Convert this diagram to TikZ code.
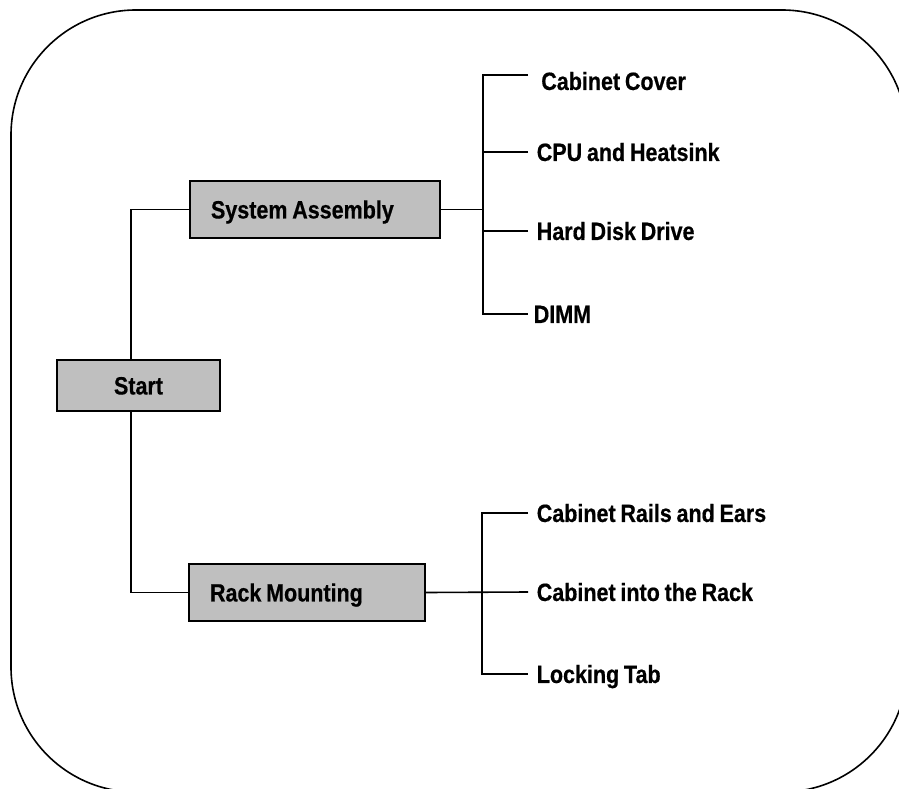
\documentclass[tikz,border=0pt]{standalone}
\usepackage{fontspec}
\newfontfamily\labelfont[FakeStretch=0.86, FakeBold=0.5, WordSpace=0.8]{Liberation Sans Bold}
\usepackage{tikz}
\usetikzlibrary{positioning}

\tikzset{
  lbl/.style={font=\labelfont\fontsize{25}{29}\selectfont, text height=17.9pt, text depth=0pt},
  box/.style={lbl, draw, fill=gray!50, minimum height=57pt, inner xsep=21pt, align=left,
    execute at begin node={\spaceskip=0pt\xspaceskip=0pt\relax}},
  leaf/.style={lbl, anchor=west, inner xsep=8pt, inner ysep=2pt}
}

\begin{document}
\begin{tikzpicture}[x=1pt, y=-1pt, line width=1.6pt]
\useasboundingbox (0,0) rectangle (899,789);
\draw[rounded corners=125pt] (11,10) rectangle (907,792);

% main boxes
\node[box, text width=121pt, align=center, minimum height=51pt] (start) at (138.5,385.5) {Start};
\node[box, text width=208pt] (sys) at (315,209.5) {System Assembly};
\node[box, text width=194pt] (rack) at (307,592.5) {Rack Mounting};

\coordinate (trunk) at (131,0);
\draw (start.north -| trunk) |- (sys.west);
\draw (start.south -| trunk) |- (rack.west);

% system assembly steps
\node[leaf, inner xsep=12.5pt] (cover) at (528,81) {Cabinet Cover};
\node[leaf] (cpu) at (528,152) {CPU and Heatsink};
\node[leaf] (hdd) at (528,231) {Hard Disk Drive};
\node[leaf, inner xsep=5pt] (dimm) at (528,314) {DIMM};

\coordinate (sbus) at (483,0);
\draw (sys.east) -- (sys.east -| sbus);
\draw ([yshift=6pt]cover.west) -| (sbus |- dimm.west) -- (dimm.west);
\draw (cpu.west) -- (cpu.west -| sbus);
\draw (hdd.west) -- (hdd.west -| sbus);

% rack mounting steps
\node[leaf] (rails) at (528,513) {Cabinet Rails and Ears};
\node[leaf] (into) at (528,592) {Cabinet into the Rack};
\node[leaf] (lock) at (528,674) {Locking Tab};

\coordinate (rbus) at (482,0);
\draw (rack.east) -- (into.west);
\draw (rails.west) -| (rbus |- lock.west) -- (lock.west);
\end{tikzpicture}
\end{document}
